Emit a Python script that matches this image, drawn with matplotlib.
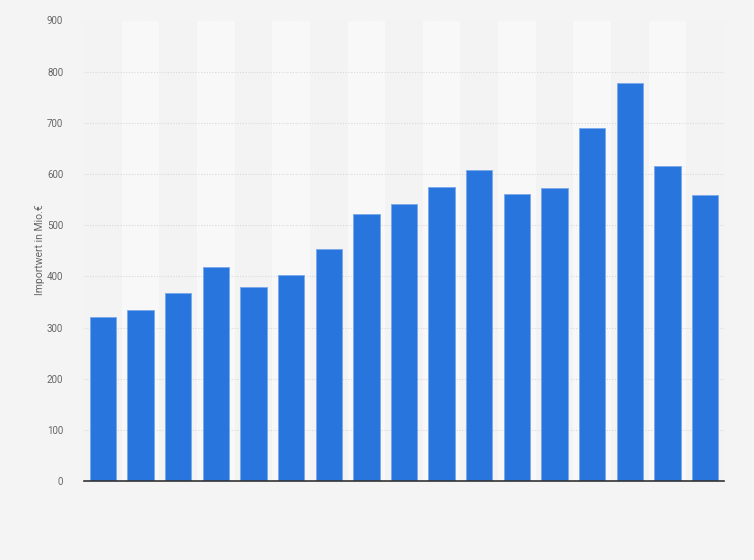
import matplotlib
matplotlib.use("Agg")
import matplotlib.pyplot as plt
import numpy as np

values = [320, 335, 368, 419, 379, 402, 454, 521, 542, 575, 607, 560, 573, 689, 777, 616, 558]
yticks = [0, 100, 200, 300, 400, 500, 600, 700, 800, 900]
ylabel = "Importwert in Mio.€"

plt.rcParams['font.family'] = ['Roboto', 'DejaVu Sans']

W, H = 754, 560
fig = plt.figure(figsize=(W / 100, H / 100), dpi=100)
fig.patch.set_facecolor('#f4f4f4')
ax = fig.add_axes([84 / W, (H - 481) / H, (724 - 84) / W, (481 - 20.5) / H])
ax.set_facecolor('#f3f3f3')

n = len(values)
x = np.arange(n)
for i in range(n):
    if i % 2 == 1:
        ax.axvspan(i - 0.5, i + 0.5, color='#f8f8f8', zorder=0, lw=0)

for t in yticks[1:]:
    ax.axhline(t, color='#d9d9d9', lw=0.8, ls=(0, (1, 1.5)), zorder=1)

ax.bar(x, values, width=0.7, color='#2876dd', edgecolor='#7aa8ea', linewidth=0.6, zorder=3)

ax.set_xlim(-0.5, n - 0.5)
ax.set_ylim(0, 900)
ax.set_yticks(yticks)
ax.set_yticklabels([str(t) for t in yticks], fontsize=7, color='#666666')
ax.tick_params(axis='y', length=0, pad=15)
ax.set_xticks([])
for s in ['top', 'right', 'left']:
    ax.spines[s].set_visible(False)
ax.spines['bottom'].set_color('#333333')
ax.spines['bottom'].set_linewidth(1.2)
ax.spines['bottom'].set_zorder(4)

fig.text(40 / W, 1 - 250 / H, ylabel, rotation=90, ha='center', va='center',
         fontsize=7.5, color='#666666')

fig.savefig('out.png', dpi=100, facecolor=fig.get_facecolor())
